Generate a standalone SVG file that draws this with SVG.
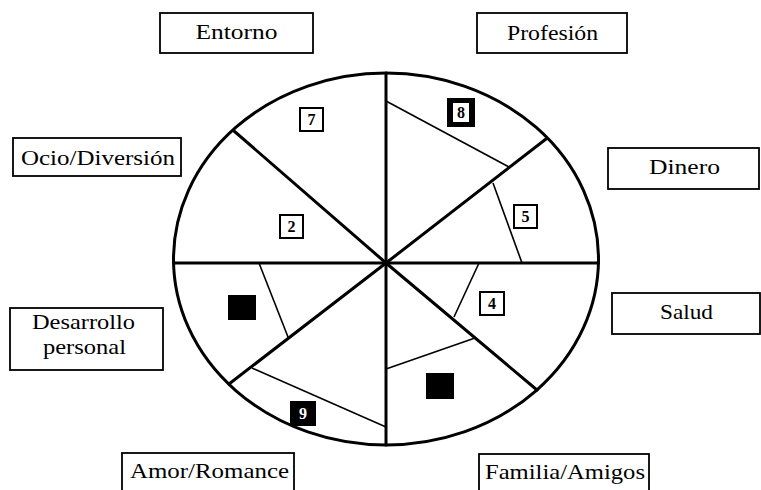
<svg xmlns="http://www.w3.org/2000/svg" width="761" height="490" viewBox="0 0 761 490">
<style>
.lbl{fill:#fff;stroke:#000;stroke-width:1.8}
.t{font-family:"Liberation Serif",serif;font-size:22px;fill:#000;text-anchor:middle}
.main{stroke:#000;stroke-width:3;fill:none;stroke-linecap:round}
.inner{stroke:#000;stroke-width:1.6;fill:none}
.nb{fill:#fff;stroke:#000;stroke-width:2}
.nbk{fill:#000;stroke:#000;stroke-width:2}
.n{font-family:"Liberation Serif",serif;font-size:16px;font-weight:bold;text-anchor:middle}
</style>
<rect width="761" height="490" fill="#fff"/>
<g id="wheel">
<ellipse cx="386" cy="259" rx="212.5" ry="186" class="main"/>
</g>
<g id="connectors">
<line x1="173.5" y1="263" x2="598.5" y2="263" class="main"/>
<line x1="386" y1="73" x2="386" y2="445" class="main"/>
<line x1="386" y1="263" x2="546" y2="139" class="main"/>
<line x1="386" y1="263" x2="234" y2="131" class="main"/>
<line x1="386" y1="263" x2="229" y2="384" class="main"/>
<line x1="386" y1="263" x2="537" y2="390" class="main"/>
<line x1="386" y1="101" x2="509" y2="167" class="inner"/>
<line x1="493" y1="183" x2="522" y2="263" class="inner"/>
<line x1="479" y1="263" x2="454" y2="317" class="inner"/>
<line x1="475" y1="338" x2="386" y2="369" class="inner"/>
<line x1="386" y1="427" x2="252" y2="368" class="inner"/>
<line x1="288" y1="337" x2="259" y2="263" class="inner"/>
</g>
<g id="score-entorno"><rect x="300" y="108" width="23" height="23" class="nb"/><text x="311.5" y="125" class="n">7</text></g>
<g id="score-ocio"><rect x="280" y="215" width="23" height="23" class="nb"/><text x="291.5" y="232" class="n">2</text></g>
<g id="score-profesion"><rect x="448" y="99" width="26" height="27" class="nbk"/><rect x="453" y="103" width="16" height="19" fill="#fff"/><text x="461" y="118" class="n">8</text></g>
<g id="score-dinero"><rect x="514" y="205" width="23" height="23" class="nb"/><text x="525.5" y="222" class="n">5</text></g>
<g id="score-salud"><rect x="480" y="292" width="24" height="23" class="nb"/><text x="492" y="309" class="n">4</text></g>
<g id="score-familia"><rect x="427" y="374" width="26" height="24" class="nbk"/></g>
<g id="score-desarrollo"><rect x="229" y="296" width="26" height="23" class="nbk"/></g>
<g id="score-amor"><rect x="291" y="402" width="24" height="23" class="nbk"/><text x="303" y="419" class="n" fill="#fff">9</text></g>
<g id="entorno"><rect x="160" y="13" width="153" height="40" class="lbl"/><text x="236.5" y="39" class="t" textLength="82" lengthAdjust="spacingAndGlyphs">Entorno</text></g>
<g id="profesion"><rect x="477" y="13" width="150" height="40" class="lbl"/><text x="552.5" y="40" class="t" textLength="91" lengthAdjust="spacingAndGlyphs">Profesión</text></g>
<g id="ocio"><rect x="13" y="138" width="168" height="38" class="lbl"/><text x="98" y="165" class="t" textLength="154" lengthAdjust="spacingAndGlyphs">Ocio/Diversión</text></g>
<g id="dinero"><rect x="608" y="148" width="151" height="41" class="lbl"/><text x="684.5" y="174" class="t" textLength="71" lengthAdjust="spacingAndGlyphs">Dinero</text></g>
<g id="desarrollo"><rect x="10" y="308" width="153" height="62" class="lbl"/><text x="83.5" y="329" class="t" textLength="103" lengthAdjust="spacingAndGlyphs">Desarrollo</text><text x="84.5" y="354" class="t" textLength="83" lengthAdjust="spacingAndGlyphs">personal</text></g>
<g id="salud"><rect x="612" y="293" width="148" height="41" class="lbl"/><text x="686.5" y="319" class="t" textLength="53" lengthAdjust="spacingAndGlyphs">Salud</text></g>
<g id="amor"><rect x="122" y="453" width="172" height="45" class="lbl"/><text x="209.5" y="478" class="t" textLength="159" lengthAdjust="spacingAndGlyphs">Amor/Romance</text></g>
<g id="familia"><rect x="479" y="454" width="170" height="45" class="lbl"/><text x="565" y="479" class="t" textLength="160" lengthAdjust="spacingAndGlyphs">Familia/Amigos</text></g>
</svg>
